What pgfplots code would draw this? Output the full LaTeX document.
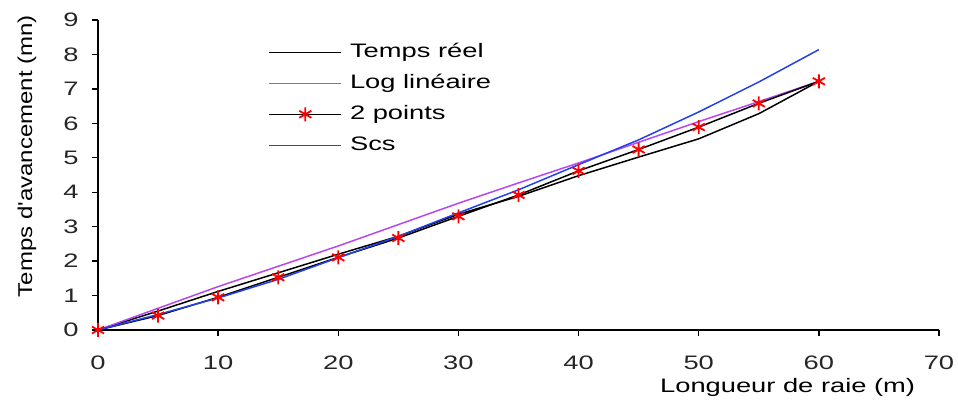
\documentclass[border=0pt]{standalone}
\usepackage{fontspec}
\setmainfont{Liberation Sans}
\newfontfamily\wide[FakeStretch=1.4]{Liberation Sans}
\newfontfamily\ylab[FakeStretch=1.2]{Liberation Sans}
\usepackage{pgfplots}
\pgfplotsset{compat=1.18}
\definecolor{purp}{RGB}{185,70,240}
\definecolor{scsblue}{RGB}{35,65,235}
\begin{document}
\begin{tikzpicture}[x=1pt,y=1pt]
\useasboundingbox (0,0) rectangle (958,401);
\begin{axis}[
  at={(98pt,71pt)}, anchor=south west,
  scale only axis, width=841pt, height=310pt,
  xmin=0, xmax=70, ymin=0, ymax=9,
  xtick={0,10,...,70}, ytick={0,1,...,9},
  axis lines=left, axis line style={-, line width=1.3pt},
  tick align=outside, major tick length=6pt,
  tick style={line width=1.3pt, black},
  /pgf/number format/assume math mode=true,
  ticklabel style={font=\wide\fontsize{19.5}{20}\selectfont, text=black!85},
  xticklabel style={anchor=north, yshift=-16pt},
  yticklabel style={anchor=east, xshift=-10pt},
  xlabel={\wide\fontsize{19.5}{20}\selectfont Longueur de raie (m)},
  xlabel style={at={(axis description cs:0.820,-0.184)}, anchor=center},
  ylabel={\ylab\fontsize{20}{22}\selectfont Temps d'avancement (mn)},
  ylabel style={at={(axis description cs:-0.0844,0.561)}, anchor=center, rotate=0},
  legend style={at={(axis description cs:0.199,0.932)}, anchor=north west,
    draw=none, fill=none, font=\wide\fontsize{19.5}{20}\selectfont,
    nodes={inner sep=0pt, text height=14pt, text depth=4pt}, row sep=13pt,
    /tikz/every odd column/.append style={column sep=8pt}},
  legend cell align=left,
  legend image code/.code={\draw[mark repeat=2,mark phase=2,#1] plot coordinates {(0pt,0pt) (36pt,0pt) (72pt,0pt)};},
]
\addplot[black, line width=1.5pt] coordinates {
(0,0) (5,0.55) (10,1.12) (15,1.66) (20,2.2) (25,2.72) (30,3.36) (35,3.88) (40,4.48) (45,5.02) (50,5.55) (55,6.28) (60,7.22)};
\addlegendentry{Temps réel}
\addplot[purp, line width=1.5pt] coordinates {
(0,0) (5,0.63) (10,1.26) (15,1.85) (20,2.44) (25,3.06) (30,3.68) (35,4.27) (40,4.85) (45,5.45) (50,6.05) (55,6.63) (60,7.22)};
\addlegendentry{Log linéaire}
\addplot[black, line width=1.5pt, mark=asterisk, mark size=7pt, mark options={red, line width=1.8pt}] coordinates {
(0,0) (5,0.42) (10,0.95) (15,1.53) (20,2.11) (25,2.67) (30,3.30) (35,3.92) (40,4.62) (45,5.24) (50,5.89) (55,6.58) (60,7.22)};
\addlegendentry{2 points}
\addplot[scsblue, line width=1.5pt] coordinates {
(0,0) (5,0.45) (10,0.93) (15,1.47) (20,2.1) (25,2.72) (30,3.4) (35,4.07) (40,4.8) (45,5.52) (50,6.33) (55,7.2) (60,8.14)};
\addlegendentry{Scs}
\end{axis}
\end{tikzpicture}
\end{document}
